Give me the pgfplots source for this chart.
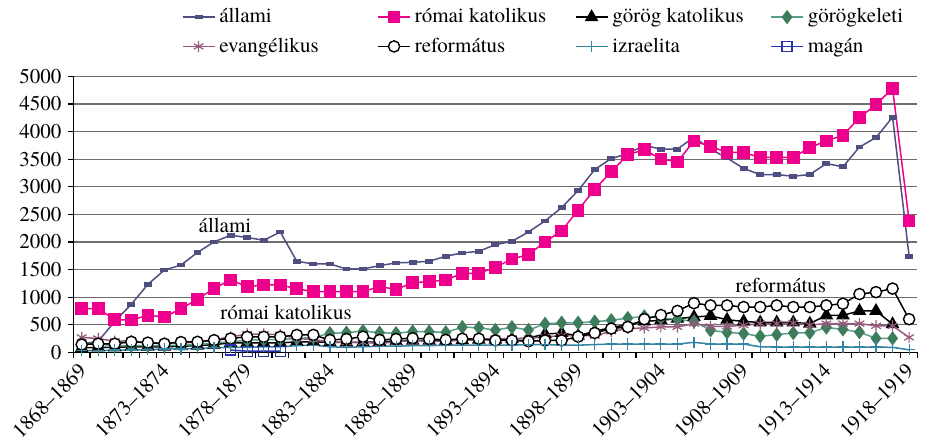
\documentclass[border=0pt]{standalone}
\usepackage{fontspec}
\setmainfont{texgyretermes}[Extension=.otf, UprightFont=*-regular, BoldFont=*-bold, ItalicFont=*-italic, BoldItalicFont=*-bolditalic]
\usepackage{pgfplots}
\pgfplotsset{compat=1.18}
\usepackage{pgfplotstable}
\definecolor{cAll}{RGB}{78,78,128}
\definecolor{cRk}{RGB}{236,0,140}
\definecolor{cGkel}{RGB}{62,125,92}
\definecolor{cGkelL}{RGB}{88,160,140}
\definecolor{cEv}{RGB}{150,90,125}
\definecolor{cIzr}{RGB}{52,132,165}
\definecolor{cMag}{RGB}{40,50,170}
\definecolor{cGrid}{RGB}{110,110,110}

\pgfplotstableread{
x all rk gk gkel ev ref izr
0 150 790 80 170 270 140 30
1 200 790 90 150 250 155 30
2 560 590 90 120 200 155 40
3 870 585 100 120 210 190 40
4 1230 670 100 120 170 175 50
5 1490 640 100 120 170 155 60
6 1580 790 110 130 170 185 60
7 1810 960 120 140 180 190 70
8 2000 1160 140 170 230 220 80
9 2120 1310 170 190 280 250 90
10 2080 1190 170 220 330 280 90
11 2030 1220 170 230 330 280 100
12 2180 1220 170 230 320 280 100
13 1650 1150 190 250 250 315 120
14 1600 1100 190 270 230 315 130
15 1600 1100 180 345 190 223 100
16 1510 1100 180 355 180 241 90
17 1510 1100 180 385 180 283 100
18 1570 1190 190 355 160 223 110
19 1620 1140 200 345 190 241 110
20 1630 1260 210 375 210 255 120
21 1650 1280 210 373 200 241 120
22 1740 1310 210 361 200 225 130
23 1800 1430 220 455 230 245 130
24 1830 1430 230 445 240 245 130
25 1950 1540 230 403 250 215 130
26 2010 1690 240 455 250 215 130
27 2180 1770 260 403 250 200 140
28 2380 2000 330 515 280 215 140
29 2620 2200 350 535 300 215 130
30 2930 2575 300 535 300 283 130
31 3310 2955 380 555 300 350 140
32 3510 3270 450 580 380 430 150
33 3600 3580 500 620 430 460 150
34 3750 3670 560 650 440 600 150
35 3680 3500 580 620 460 675 150
36 3680 3450 610 600 460 750 150
37 3900 3830 640 560 520 890 180
38 3680 3730 660 400 470 850 150
39 3520 3620 590 360 470 850 150
40 3330 3620 560 340 490 820 150
41 3220 3530 540 290 520 820 100
42 3220 3530 540 320 520 850 95
43 3190 3530 540 350 530 820 95
44 3220 3710 520 355 495 820 95
45 3420 3830 670 450 520 850 95
46 3360 3930 670 415 520 880 95
47 3720 4250 750 365 520 1055 95
48 3890 4490 750 253 480 1090 95
49 4260 4780 510 253 480 1155 90
50 1740 2380 nan nan 270 600 45
}\datatable

\begin{document}
\begin{tikzpicture}
\useasboundingbox (-36.7pt,-43.85pt) rectangle (426.3pt,176.15pt);
\begin{axis}[
  at={(0,0)}, anchor=south west,
  scale only axis, width=422pt, height=138pt,
  xmin=-0.5, xmax=50.5, ymin=0, ymax=5000,
  axis x line*=bottom, axis y line*=left,
  axis line style={black, line width=0.8pt},
  ytick={0,500,...,5000},
  ymajorgrids, grid style={cGrid, line width=0.6pt},
  xtick={0,5,...,50},
  xticklabels={1868--1869,1873--1874,1878--1879,1883--1884,1888--1889,1893--1894,1898--1899,1903--1904,1908--1909,1913--1914,1918--1919},
  minor xtick={-0.5,0.5,...,50.5},
  major x tick style={draw=none},
  minor x tick style={black, line width=0.6pt},
  minor tick length=2.8pt,
  y tick style={black, line width=0.6pt},
  major tick length=2.5pt,
  tick align=outside,
  tick label style={font=\fontsize{10.5}{12}\selectfont},
  x tick label style={rotate=45, anchor=north east, inner sep=1pt, xshift=-2pt, yshift=1pt},
  y tick label style={/pgf/number format/1000 sep={}},
  /pgf/number format/assume math mode=true,
  scaled y ticks=false,
  legend columns=4,
  legend style={draw=none, fill=none, at={(rel axis cs:0.128,1.262)}, anchor=north west,
    font=\fontsize{10.5}{12}\selectfont, row sep=2pt, inner sep=0pt},
  legend cell align=left,
  legend image code/.code={\draw[mark repeat=2,mark phase=2,#1] plot coordinates {(0pt,0pt) (8pt,0pt) (16pt,0pt)};},
  every axis plot/.append style={line width=0.75pt},
  clip=false,
]
\addplot[cAll, mark=square*, mark size=1.6pt, mark options={yscale=0.5, fill=cAll}] table[x=x,y=all] {\datatable};
\addlegendentry{\makebox[77pt][l]{állami}}
\addplot[cRk, mark=square*, mark size=2.8pt, mark options={fill=cRk}] table[x=x,y=rk] {\datatable};
\addlegendentry{\makebox[78pt][l]{római katolikus}}
\addplot[black, mark=triangle*, mark size=3.2pt, mark options={fill=black}] table[x=x,y=gk] {\datatable};
\addlegendentry{\makebox[77pt][l]{görög katolikus}}
\addplot[cGkelL, mark=diamond*, mark size=3pt, mark options={fill=cGkel, draw=cGkel}] table[x=x,y=gkel] {\datatable};
\addlegendentry{\makebox[60pt][l]{görögkeleti}}
\addplot[cEv, mark=asterisk, mark size=2.8pt, mark options={line width=0.6pt}] table[x=x,y=ev] {\datatable};
\addlegendentry{\makebox[77pt][l]{evangélikus}}
\addplot[black, mark=*, mark size=2.8pt, mark options={fill=white, draw=black, line width=0.7pt}] table[x=x,y=ref] {\datatable};
\addlegendentry{\makebox[78pt][l]{református}}
\addplot[cIzr, mark=+, mark size=2.8pt, mark options={line width=0.6pt}] table[x=x,y=izr] {\datatable};
\addlegendentry{\makebox[77pt][l]{izraelita}}
\addplot[cMag, mark=square, mark size=2.5pt, mark options={line width=0.6pt}] coordinates {(9,40) (10,20) (11,20) (12,20)};
\addlegendentry{\makebox[60pt][l]{magán}}
\node[font=\fontsize{10.5}{12}\selectfont] at (axis cs:8.66,2300) {állami};
\node[font=\fontsize{10.5}{12}\selectfont] at (axis cs:12.35,730) {római katolikus};
\node[font=\fontsize{10.5}{12}\selectfont] at (axis cs:42.25,1215) {református};
\end{axis}
\end{tikzpicture}
\end{document}
